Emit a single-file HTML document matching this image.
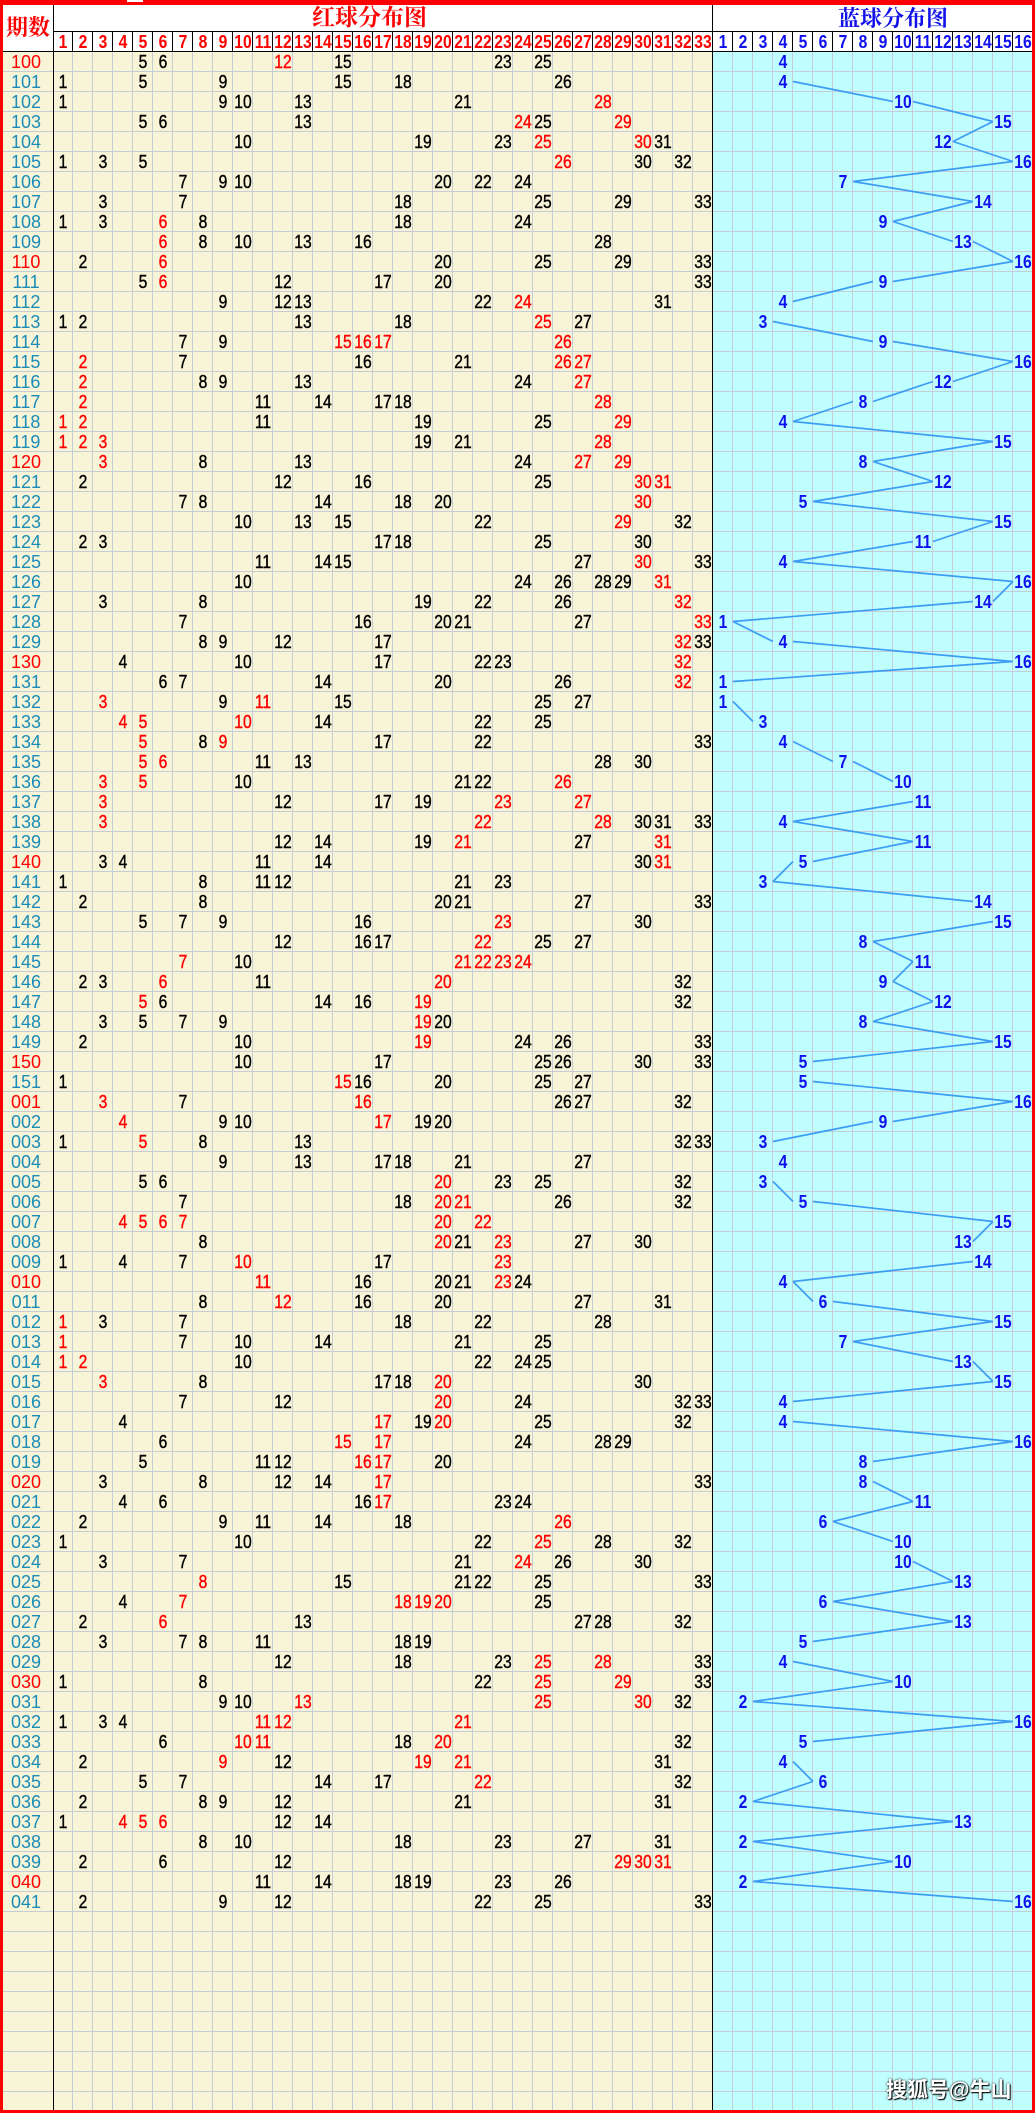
<!DOCTYPE html>
<html><head><meta charset="utf-8">
<style>
*{margin:0;padding:0;box-sizing:border-box}
body{width:1035px;height:2113px;position:relative;background:#fff;overflow:hidden;font-family:"Liberation Sans",sans-serif}
.a{position:absolute}
#lc{left:3px;top:52px;width:50px;height:2058px;background:linear-gradient(to bottom,transparent 19px,#c6ccd6 19px) 0 0/20px 20px,#f8f4d7}
#rc{left:53px;top:52px;width:660px;height:2058px;background:linear-gradient(to right,transparent 19px,#c6ccd6 19px) 0 0/20px 20px,linear-gradient(to bottom,transparent 19px,#c6ccd6 19px) 0 0/20px 20px,#f8f4d7}
#bc{left:713px;top:52px;width:319px;height:2058px;background:linear-gradient(to right,transparent 19px,#c6ccd6 19px) 0 0/20px 20px,linear-gradient(to bottom,transparent 19px,#c6ccd6 19px) 0 0/20px 20px,#c0ffff}
#hs{left:53px;top:32px;width:979px;height:19px;background:linear-gradient(to right,transparent 19px,#000 19px) 0 0/20px 100%}
.k{position:absolute;background:#000}
.rd{position:absolute;background:#f00}
#rows{position:absolute;left:0;top:52px;width:1035px}
.r{position:relative;height:20px}
.r i,.r em,.r b,.r span{position:absolute;top:0;width:20px;height:20px;text-align:center;line-height:20px;font-size:18px;font-style:normal;font-weight:normal;transform:scaleX(.87);white-space:nowrap}
.r i{color:#000;-webkit-text-stroke:0.4px #000}
.r em{color:#f00;-webkit-text-stroke:0.4px #f00}
.r b{color:#1010ee;font-weight:bold}
.r span{left:1px;width:50px;transform:none;color:#1a8cb8}
.r span.R{color:#f00}
.h i,.h em{font-weight:bold;-webkit-text-stroke:0}
.h b{font-weight:bold}
.x1{left:53px}.x2{left:73px}.x3{left:93px}.x4{left:113px}.x5{left:133px}.x6{left:153px}.x7{left:173px}.x8{left:193px}.x9{left:213px}.x10{left:233px}.x11{left:253px}.x12{left:273px}.x13{left:293px}.x14{left:313px}.x15{left:333px}.x16{left:353px}.x17{left:373px}.x18{left:393px}.x19{left:413px}.x20{left:433px}.x21{left:453px}.x22{left:473px}.x23{left:493px}.x24{left:513px}.x25{left:533px}.x26{left:553px}.x27{left:573px}.x28{left:593px}.x29{left:613px}.x30{left:633px}.x31{left:653px}.x32{left:673px}.x33{left:693px}
.y1{left:713px}.y2{left:733px}.y3{left:753px}.y4{left:773px}.y5{left:793px}.y6{left:813px}.y7{left:833px}.y8{left:853px}.y9{left:873px}.y10{left:893px}.y11{left:913px}.y12{left:933px}.y13{left:953px}.y14{left:973px}.y15{left:993px}.y16{left:1013px}
#qs{left:3px;top:5px;width:50px;height:46px;line-height:46px;text-align:center;font-family:"Liberation Serif","Noto Serif CJK SC",serif;font-weight:bold;font-size:22px;color:#f00;white-space:nowrap}
#t1{left:312px;top:5px;height:26px;line-height:26px;font-family:"Liberation Serif","Noto Serif CJK SC",serif;font-weight:bold;font-size:23px;color:#f00;white-space:nowrap}
#t2{left:838px;top:6px;height:26px;line-height:26px;font-family:"Liberation Serif","Noto Serif CJK SC",serif;font-weight:bold;font-size:22px;color:#1010e8;white-space:nowrap}
#wm{left:886px;top:2079px;height:24px;line-height:24px;font-family:"Liberation Sans","Noto Sans CJK SC",sans-serif;font-weight:bold;font-size:21px;color:#fff;white-space:nowrap;text-shadow:1px 1px 1px #000,0 0 2px #000}
</style></head><body>
<div class="a" id="lc"></div>
<div class="a" id="rc"></div>
<div class="a" id="bc"></div>
<div class="a" id="hs"></div>
<div class="k" style="left:53px;top:31px;width:979px;height:1px"></div>
<div class="k" style="left:3px;top:51px;width:1029px;height:1px"></div>
<div class="k" style="left:53px;top:5px;width:1px;height:2105px"></div>
<div class="k" style="left:712px;top:5px;width:1px;height:2105px"></div>
<div class="a" id="qs">期数</div>
<div class="a" id="t1">红球分布图</div>
<div class="a" id="t2">蓝球分布图</div>
<div class="r h" style="position:absolute;left:0;top:32px;width:1035px"><em class="x1">1</em><em class="x2">2</em><em class="x3">3</em><em class="x4">4</em><em class="x5">5</em><em class="x6">6</em><em class="x7">7</em><em class="x8">8</em><em class="x9">9</em><em class="x10">10</em><em class="x11">11</em><em class="x12">12</em><em class="x13">13</em><em class="x14">14</em><em class="x15">15</em><em class="x16">16</em><em class="x17">17</em><em class="x18">18</em><em class="x19">19</em><em class="x20">20</em><em class="x21">21</em><em class="x22">22</em><em class="x23">23</em><em class="x24">24</em><em class="x25">25</em><em class="x26">26</em><em class="x27">27</em><em class="x28">28</em><em class="x29">29</em><em class="x30">30</em><em class="x31">31</em><em class="x32">32</em><em class="x33">33</em><b class="y1">1</b><b class="y2">2</b><b class="y3">3</b><b class="y4">4</b><b class="y5">5</b><b class="y6">6</b><b class="y7">7</b><b class="y8">8</b><b class="y9">9</b><b class="y10">10</b><b class="y11">11</b><b class="y12">12</b><b class="y13">13</b><b class="y14">14</b><b class="y15">15</b><b class="y16">16</b></div>
<svg class="a" style="left:0;top:0" width="1035" height="2113" viewBox="0 0 1035 2113"><path fill="none" stroke="#3d9df5" stroke-width="1.7" d="M793 81.5L893 101.5M913 101.5L993 121.5M993 121.5L953 141.5M953 141.5L1013 161.5M1013 161.5L853 181.5M853 181.5L973 201.5M973 201.5L893 221.5M893 221.5L953 241.5M973 241.5L1013 261.5M1013 261.5L893 281.5M873 281.5L793 301.5M773 321.5L873 341.5M893 341.5L1013 361.5M1013 361.5L953 381.5M933 381.5L873 401.5M853 401.5L793 421.5M793 421.5L993 441.5M993 441.5L873 461.5M873 461.5L933 481.5M933 481.5L813 501.5M813 501.5L993 521.5M993 521.5L933 541.5M913 541.5L793 561.5M793 561.5L1013 581.5M1013 581.5L993 601.5M973 601.5L733 621.5M733 621.5L773 641.5M793 641.5L1013 661.5M1013 661.5L733 681.5M733 701.5L753 721.5M793 741.5L833 761.5M853 761.5L893 781.5M913 801.5L793 821.5M793 821.5L913 841.5M913 841.5L813 861.5M793 861.5L773 881.5M773 881.5L973 901.5M993 921.5L873 941.5M873 941.5L913 961.5M913 961.5L893 981.5M893 981.5L933 1001.5M933 1001.5L873 1021.5M873 1021.5L993 1041.5M993 1041.5L813 1061.5M813 1081.5L1013 1101.5M1013 1101.5L893 1121.5M873 1121.5L773 1141.5M773 1181.5L793 1201.5M813 1201.5L993 1221.5M993 1221.5L973 1241.5M973 1261.5L793 1281.5M793 1281.5L813 1301.5M833 1301.5L993 1321.5M993 1321.5L853 1341.5M853 1341.5L953 1361.5M973 1361.5L993 1381.5M993 1381.5L793 1401.5M793 1421.5L1013 1441.5M1013 1441.5L873 1461.5M873 1481.5L913 1501.5M913 1501.5L833 1521.5M833 1521.5L893 1541.5M913 1561.5L953 1581.5M953 1581.5L833 1601.5M833 1601.5L953 1621.5M953 1621.5L813 1641.5M793 1661.5L893 1681.5M893 1681.5L753 1701.5M753 1701.5L1013 1721.5M1013 1721.5L813 1741.5M793 1761.5L813 1781.5M813 1781.5L753 1801.5M753 1801.5L953 1821.5M953 1821.5L753 1841.5M753 1841.5L893 1861.5M893 1861.5L753 1881.5M753 1881.5L1013 1901.5"/></svg>
<div id="rows">
<div class="r"><span class="l R">100</span><i class="x5">5</i><i class="x6">6</i><em class="x12">12</em><i class="x15">15</i><i class="x23">23</i><i class="x25">25</i><b class="y4">4</b></div>
<div class="r"><span class="l">101</span><i class="x1">1</i><i class="x5">5</i><i class="x9">9</i><i class="x15">15</i><i class="x18">18</i><i class="x26">26</i><b class="y4">4</b></div>
<div class="r"><span class="l">102</span><i class="x1">1</i><i class="x9">9</i><i class="x10">10</i><i class="x13">13</i><i class="x21">21</i><em class="x28">28</em><b class="y10">10</b></div>
<div class="r"><span class="l">103</span><i class="x5">5</i><i class="x6">6</i><i class="x13">13</i><em class="x24">24</em><i class="x25">25</i><em class="x29">29</em><b class="y15">15</b></div>
<div class="r"><span class="l">104</span><i class="x10">10</i><i class="x19">19</i><i class="x23">23</i><em class="x25">25</em><em class="x30">30</em><i class="x31">31</i><b class="y12">12</b></div>
<div class="r"><span class="l">105</span><i class="x1">1</i><i class="x3">3</i><i class="x5">5</i><em class="x26">26</em><i class="x30">30</i><i class="x32">32</i><b class="y16">16</b></div>
<div class="r"><span class="l">106</span><i class="x7">7</i><i class="x9">9</i><i class="x10">10</i><i class="x20">20</i><i class="x22">22</i><i class="x24">24</i><b class="y7">7</b></div>
<div class="r"><span class="l">107</span><i class="x3">3</i><i class="x7">7</i><i class="x18">18</i><i class="x25">25</i><i class="x29">29</i><i class="x33">33</i><b class="y14">14</b></div>
<div class="r"><span class="l">108</span><i class="x1">1</i><i class="x3">3</i><em class="x6">6</em><i class="x8">8</i><i class="x18">18</i><i class="x24">24</i><b class="y9">9</b></div>
<div class="r"><span class="l">109</span><em class="x6">6</em><i class="x8">8</i><i class="x10">10</i><i class="x13">13</i><i class="x16">16</i><i class="x28">28</i><b class="y13">13</b></div>
<div class="r"><span class="l R">110</span><i class="x2">2</i><em class="x6">6</em><i class="x20">20</i><i class="x25">25</i><i class="x29">29</i><i class="x33">33</i><b class="y16">16</b></div>
<div class="r"><span class="l">111</span><i class="x5">5</i><em class="x6">6</em><i class="x12">12</i><i class="x17">17</i><i class="x20">20</i><i class="x33">33</i><b class="y9">9</b></div>
<div class="r"><span class="l">112</span><i class="x9">9</i><i class="x12">12</i><i class="x13">13</i><i class="x22">22</i><em class="x24">24</em><i class="x31">31</i><b class="y4">4</b></div>
<div class="r"><span class="l">113</span><i class="x1">1</i><i class="x2">2</i><i class="x13">13</i><i class="x18">18</i><em class="x25">25</em><i class="x27">27</i><b class="y3">3</b></div>
<div class="r"><span class="l">114</span><i class="x7">7</i><i class="x9">9</i><em class="x15">15</em><em class="x16">16</em><em class="x17">17</em><em class="x26">26</em><b class="y9">9</b></div>
<div class="r"><span class="l">115</span><em class="x2">2</em><i class="x7">7</i><i class="x16">16</i><i class="x21">21</i><em class="x26">26</em><em class="x27">27</em><b class="y16">16</b></div>
<div class="r"><span class="l">116</span><em class="x2">2</em><i class="x8">8</i><i class="x9">9</i><i class="x13">13</i><i class="x24">24</i><em class="x27">27</em><b class="y12">12</b></div>
<div class="r"><span class="l">117</span><em class="x2">2</em><i class="x11">11</i><i class="x14">14</i><i class="x17">17</i><i class="x18">18</i><em class="x28">28</em><b class="y8">8</b></div>
<div class="r"><span class="l">118</span><em class="x1">1</em><em class="x2">2</em><i class="x11">11</i><i class="x19">19</i><i class="x25">25</i><em class="x29">29</em><b class="y4">4</b></div>
<div class="r"><span class="l">119</span><em class="x1">1</em><em class="x2">2</em><em class="x3">3</em><i class="x19">19</i><i class="x21">21</i><em class="x28">28</em><b class="y15">15</b></div>
<div class="r"><span class="l R">120</span><em class="x3">3</em><i class="x8">8</i><i class="x13">13</i><i class="x24">24</i><em class="x27">27</em><em class="x29">29</em><b class="y8">8</b></div>
<div class="r"><span class="l">121</span><i class="x2">2</i><i class="x12">12</i><i class="x16">16</i><i class="x25">25</i><em class="x30">30</em><em class="x31">31</em><b class="y12">12</b></div>
<div class="r"><span class="l">122</span><i class="x7">7</i><i class="x8">8</i><i class="x14">14</i><i class="x18">18</i><i class="x20">20</i><em class="x30">30</em><b class="y5">5</b></div>
<div class="r"><span class="l">123</span><i class="x10">10</i><i class="x13">13</i><i class="x15">15</i><i class="x22">22</i><em class="x29">29</em><i class="x32">32</i><b class="y15">15</b></div>
<div class="r"><span class="l">124</span><i class="x2">2</i><i class="x3">3</i><i class="x17">17</i><i class="x18">18</i><i class="x25">25</i><i class="x30">30</i><b class="y11">11</b></div>
<div class="r"><span class="l">125</span><i class="x11">11</i><i class="x14">14</i><i class="x15">15</i><i class="x27">27</i><em class="x30">30</em><i class="x33">33</i><b class="y4">4</b></div>
<div class="r"><span class="l">126</span><i class="x10">10</i><i class="x24">24</i><i class="x26">26</i><i class="x28">28</i><i class="x29">29</i><em class="x31">31</em><b class="y16">16</b></div>
<div class="r"><span class="l">127</span><i class="x3">3</i><i class="x8">8</i><i class="x19">19</i><i class="x22">22</i><i class="x26">26</i><em class="x32">32</em><b class="y14">14</b></div>
<div class="r"><span class="l">128</span><i class="x7">7</i><i class="x16">16</i><i class="x20">20</i><i class="x21">21</i><i class="x27">27</i><em class="x33">33</em><b class="y1">1</b></div>
<div class="r"><span class="l">129</span><i class="x8">8</i><i class="x9">9</i><i class="x12">12</i><i class="x17">17</i><em class="x32">32</em><i class="x33">33</i><b class="y4">4</b></div>
<div class="r"><span class="l R">130</span><i class="x4">4</i><i class="x10">10</i><i class="x17">17</i><i class="x22">22</i><i class="x23">23</i><em class="x32">32</em><b class="y16">16</b></div>
<div class="r"><span class="l">131</span><i class="x6">6</i><i class="x7">7</i><i class="x14">14</i><i class="x20">20</i><i class="x26">26</i><em class="x32">32</em><b class="y1">1</b></div>
<div class="r"><span class="l">132</span><em class="x3">3</em><i class="x9">9</i><em class="x11">11</em><i class="x15">15</i><i class="x25">25</i><i class="x27">27</i><b class="y1">1</b></div>
<div class="r"><span class="l">133</span><em class="x4">4</em><em class="x5">5</em><em class="x10">10</em><i class="x14">14</i><i class="x22">22</i><i class="x25">25</i><b class="y3">3</b></div>
<div class="r"><span class="l">134</span><em class="x5">5</em><i class="x8">8</i><em class="x9">9</em><i class="x17">17</i><i class="x22">22</i><i class="x33">33</i><b class="y4">4</b></div>
<div class="r"><span class="l">135</span><em class="x5">5</em><em class="x6">6</em><i class="x11">11</i><i class="x13">13</i><i class="x28">28</i><i class="x30">30</i><b class="y7">7</b></div>
<div class="r"><span class="l">136</span><em class="x3">3</em><em class="x5">5</em><i class="x10">10</i><i class="x21">21</i><i class="x22">22</i><em class="x26">26</em><b class="y10">10</b></div>
<div class="r"><span class="l">137</span><em class="x3">3</em><i class="x12">12</i><i class="x17">17</i><i class="x19">19</i><em class="x23">23</em><em class="x27">27</em><b class="y11">11</b></div>
<div class="r"><span class="l">138</span><em class="x3">3</em><em class="x22">22</em><em class="x28">28</em><i class="x30">30</i><i class="x31">31</i><i class="x33">33</i><b class="y4">4</b></div>
<div class="r"><span class="l">139</span><i class="x12">12</i><i class="x14">14</i><i class="x19">19</i><em class="x21">21</em><i class="x27">27</i><em class="x31">31</em><b class="y11">11</b></div>
<div class="r"><span class="l R">140</span><i class="x3">3</i><i class="x4">4</i><i class="x11">11</i><i class="x14">14</i><i class="x30">30</i><em class="x31">31</em><b class="y5">5</b></div>
<div class="r"><span class="l">141</span><i class="x1">1</i><i class="x8">8</i><i class="x11">11</i><i class="x12">12</i><i class="x21">21</i><i class="x23">23</i><b class="y3">3</b></div>
<div class="r"><span class="l">142</span><i class="x2">2</i><i class="x8">8</i><i class="x20">20</i><i class="x21">21</i><i class="x27">27</i><i class="x33">33</i><b class="y14">14</b></div>
<div class="r"><span class="l">143</span><i class="x5">5</i><i class="x7">7</i><i class="x9">9</i><i class="x16">16</i><em class="x23">23</em><i class="x30">30</i><b class="y15">15</b></div>
<div class="r"><span class="l">144</span><i class="x12">12</i><i class="x16">16</i><i class="x17">17</i><em class="x22">22</em><i class="x25">25</i><i class="x27">27</i><b class="y8">8</b></div>
<div class="r"><span class="l">145</span><em class="x7">7</em><i class="x10">10</i><em class="x21">21</em><em class="x22">22</em><em class="x23">23</em><em class="x24">24</em><b class="y11">11</b></div>
<div class="r"><span class="l">146</span><i class="x2">2</i><i class="x3">3</i><em class="x6">6</em><i class="x11">11</i><em class="x20">20</em><i class="x32">32</i><b class="y9">9</b></div>
<div class="r"><span class="l">147</span><em class="x5">5</em><i class="x6">6</i><i class="x14">14</i><i class="x16">16</i><em class="x19">19</em><i class="x32">32</i><b class="y12">12</b></div>
<div class="r"><span class="l">148</span><i class="x3">3</i><i class="x5">5</i><i class="x7">7</i><i class="x9">9</i><em class="x19">19</em><i class="x20">20</i><b class="y8">8</b></div>
<div class="r"><span class="l">149</span><i class="x2">2</i><i class="x10">10</i><em class="x19">19</em><i class="x24">24</i><i class="x26">26</i><i class="x33">33</i><b class="y15">15</b></div>
<div class="r"><span class="l R">150</span><i class="x10">10</i><i class="x17">17</i><i class="x25">25</i><i class="x26">26</i><i class="x30">30</i><i class="x33">33</i><b class="y5">5</b></div>
<div class="r"><span class="l">151</span><i class="x1">1</i><em class="x15">15</em><i class="x16">16</i><i class="x20">20</i><i class="x25">25</i><i class="x27">27</i><b class="y5">5</b></div>
<div class="r"><span class="l R">001</span><em class="x3">3</em><i class="x7">7</i><em class="x16">16</em><i class="x26">26</i><i class="x27">27</i><i class="x32">32</i><b class="y16">16</b></div>
<div class="r"><span class="l">002</span><em class="x4">4</em><i class="x9">9</i><i class="x10">10</i><em class="x17">17</em><i class="x19">19</i><i class="x20">20</i><b class="y9">9</b></div>
<div class="r"><span class="l">003</span><i class="x1">1</i><em class="x5">5</em><i class="x8">8</i><i class="x13">13</i><i class="x32">32</i><i class="x33">33</i><b class="y3">3</b></div>
<div class="r"><span class="l">004</span><i class="x9">9</i><i class="x13">13</i><i class="x17">17</i><i class="x18">18</i><i class="x21">21</i><i class="x27">27</i><b class="y4">4</b></div>
<div class="r"><span class="l">005</span><i class="x5">5</i><i class="x6">6</i><em class="x20">20</em><i class="x23">23</i><i class="x25">25</i><i class="x32">32</i><b class="y3">3</b></div>
<div class="r"><span class="l">006</span><i class="x7">7</i><i class="x18">18</i><em class="x20">20</em><em class="x21">21</em><i class="x26">26</i><i class="x32">32</i><b class="y5">5</b></div>
<div class="r"><span class="l">007</span><em class="x4">4</em><em class="x5">5</em><em class="x6">6</em><em class="x7">7</em><em class="x20">20</em><em class="x22">22</em><b class="y15">15</b></div>
<div class="r"><span class="l">008</span><i class="x8">8</i><em class="x20">20</em><i class="x21">21</i><em class="x23">23</em><i class="x27">27</i><i class="x30">30</i><b class="y13">13</b></div>
<div class="r"><span class="l">009</span><i class="x1">1</i><i class="x4">4</i><i class="x7">7</i><em class="x10">10</em><i class="x17">17</i><em class="x23">23</em><b class="y14">14</b></div>
<div class="r"><span class="l R">010</span><em class="x11">11</em><i class="x16">16</i><i class="x20">20</i><i class="x21">21</i><em class="x23">23</em><i class="x24">24</i><b class="y4">4</b></div>
<div class="r"><span class="l">011</span><i class="x8">8</i><em class="x12">12</em><i class="x16">16</i><i class="x20">20</i><i class="x27">27</i><i class="x31">31</i><b class="y6">6</b></div>
<div class="r"><span class="l">012</span><em class="x1">1</em><i class="x3">3</i><i class="x7">7</i><i class="x18">18</i><i class="x22">22</i><i class="x28">28</i><b class="y15">15</b></div>
<div class="r"><span class="l">013</span><em class="x1">1</em><i class="x7">7</i><i class="x10">10</i><i class="x14">14</i><i class="x21">21</i><i class="x25">25</i><b class="y7">7</b></div>
<div class="r"><span class="l">014</span><em class="x1">1</em><em class="x2">2</em><i class="x10">10</i><i class="x22">22</i><i class="x24">24</i><i class="x25">25</i><b class="y13">13</b></div>
<div class="r"><span class="l">015</span><em class="x3">3</em><i class="x8">8</i><i class="x17">17</i><i class="x18">18</i><em class="x20">20</em><i class="x30">30</i><b class="y15">15</b></div>
<div class="r"><span class="l">016</span><i class="x7">7</i><i class="x12">12</i><em class="x20">20</em><i class="x24">24</i><i class="x32">32</i><i class="x33">33</i><b class="y4">4</b></div>
<div class="r"><span class="l">017</span><i class="x4">4</i><em class="x17">17</em><i class="x19">19</i><em class="x20">20</em><i class="x25">25</i><i class="x32">32</i><b class="y4">4</b></div>
<div class="r"><span class="l">018</span><i class="x6">6</i><em class="x15">15</em><em class="x17">17</em><i class="x24">24</i><i class="x28">28</i><i class="x29">29</i><b class="y16">16</b></div>
<div class="r"><span class="l">019</span><i class="x5">5</i><i class="x11">11</i><i class="x12">12</i><em class="x16">16</em><em class="x17">17</em><i class="x20">20</i><b class="y8">8</b></div>
<div class="r"><span class="l R">020</span><i class="x3">3</i><i class="x8">8</i><i class="x12">12</i><i class="x14">14</i><em class="x17">17</em><i class="x33">33</i><b class="y8">8</b></div>
<div class="r"><span class="l">021</span><i class="x4">4</i><i class="x6">6</i><i class="x16">16</i><em class="x17">17</em><i class="x23">23</i><i class="x24">24</i><b class="y11">11</b></div>
<div class="r"><span class="l">022</span><i class="x2">2</i><i class="x9">9</i><i class="x11">11</i><i class="x14">14</i><i class="x18">18</i><em class="x26">26</em><b class="y6">6</b></div>
<div class="r"><span class="l">023</span><i class="x1">1</i><i class="x10">10</i><i class="x22">22</i><em class="x25">25</em><i class="x28">28</i><i class="x32">32</i><b class="y10">10</b></div>
<div class="r"><span class="l">024</span><i class="x3">3</i><i class="x7">7</i><i class="x21">21</i><em class="x24">24</em><i class="x26">26</i><i class="x30">30</i><b class="y10">10</b></div>
<div class="r"><span class="l">025</span><em class="x8">8</em><i class="x15">15</i><i class="x21">21</i><i class="x22">22</i><i class="x25">25</i><i class="x33">33</i><b class="y13">13</b></div>
<div class="r"><span class="l">026</span><i class="x4">4</i><em class="x7">7</em><em class="x18">18</em><em class="x19">19</em><em class="x20">20</em><i class="x25">25</i><b class="y6">6</b></div>
<div class="r"><span class="l">027</span><i class="x2">2</i><em class="x6">6</em><i class="x13">13</i><i class="x27">27</i><i class="x28">28</i><i class="x32">32</i><b class="y13">13</b></div>
<div class="r"><span class="l">028</span><i class="x3">3</i><i class="x7">7</i><i class="x8">8</i><i class="x11">11</i><i class="x18">18</i><i class="x19">19</i><b class="y5">5</b></div>
<div class="r"><span class="l">029</span><i class="x12">12</i><i class="x18">18</i><i class="x23">23</i><em class="x25">25</em><em class="x28">28</em><i class="x33">33</i><b class="y4">4</b></div>
<div class="r"><span class="l R">030</span><i class="x1">1</i><i class="x8">8</i><i class="x22">22</i><em class="x25">25</em><em class="x29">29</em><i class="x33">33</i><b class="y10">10</b></div>
<div class="r"><span class="l">031</span><i class="x9">9</i><i class="x10">10</i><em class="x13">13</em><em class="x25">25</em><em class="x30">30</em><i class="x32">32</i><b class="y2">2</b></div>
<div class="r"><span class="l">032</span><i class="x1">1</i><i class="x3">3</i><i class="x4">4</i><em class="x11">11</em><em class="x12">12</em><em class="x21">21</em><b class="y16">16</b></div>
<div class="r"><span class="l">033</span><i class="x6">6</i><em class="x10">10</em><em class="x11">11</em><i class="x18">18</i><em class="x20">20</em><i class="x32">32</i><b class="y5">5</b></div>
<div class="r"><span class="l">034</span><i class="x2">2</i><em class="x9">9</em><i class="x12">12</i><em class="x19">19</em><em class="x21">21</em><i class="x31">31</i><b class="y4">4</b></div>
<div class="r"><span class="l">035</span><i class="x5">5</i><i class="x7">7</i><i class="x14">14</i><i class="x17">17</i><em class="x22">22</em><i class="x32">32</i><b class="y6">6</b></div>
<div class="r"><span class="l">036</span><i class="x2">2</i><i class="x8">8</i><i class="x9">9</i><i class="x12">12</i><i class="x21">21</i><i class="x31">31</i><b class="y2">2</b></div>
<div class="r"><span class="l">037</span><i class="x1">1</i><em class="x4">4</em><em class="x5">5</em><em class="x6">6</em><i class="x12">12</i><i class="x14">14</i><b class="y13">13</b></div>
<div class="r"><span class="l">038</span><i class="x8">8</i><i class="x10">10</i><i class="x18">18</i><i class="x23">23</i><i class="x27">27</i><i class="x31">31</i><b class="y2">2</b></div>
<div class="r"><span class="l">039</span><i class="x2">2</i><i class="x6">6</i><i class="x12">12</i><em class="x29">29</em><em class="x30">30</em><em class="x31">31</em><b class="y10">10</b></div>
<div class="r"><span class="l R">040</span><i class="x11">11</i><i class="x14">14</i><i class="x18">18</i><i class="x19">19</i><i class="x23">23</i><i class="x26">26</i><b class="y2">2</b></div>
<div class="r"><span class="l">041</span><i class="x2">2</i><i class="x9">9</i><i class="x12">12</i><i class="x22">22</i><i class="x25">25</i><i class="x33">33</i><b class="y16">16</b></div>
</div>
<div class="a" id="wm">搜狐号@牛山</div>
<div class="rd" style="left:0;top:0;width:1035px;height:5px"></div>
<div class="a" style="left:127px;top:0;width:16px;height:2px;background:#fff"></div>
<div class="rd" style="left:0;top:0;width:3px;height:2113px"></div>
<div class="rd" style="left:1032px;top:0;width:3px;height:2113px"></div>
<div class="rd" style="left:0;top:2110px;width:1035px;height:3px"></div>
</body></html>
